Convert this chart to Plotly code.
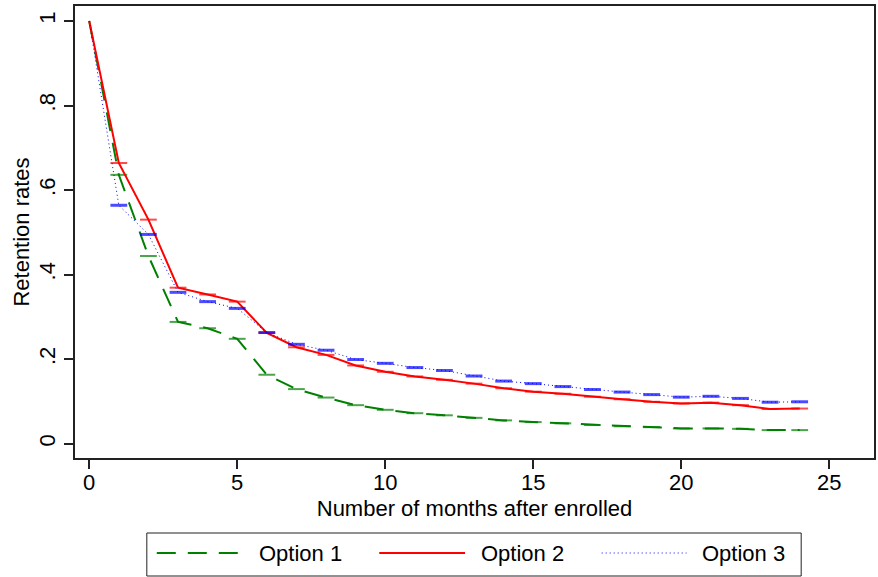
import plotly.graph_objects as go

# ---- data ----
months = list(range(0, 25))
option1 = [1.0, 0.636, 0.444, 0.288, 0.273, 0.248, 0.163, 0.129, 0.109, 0.091, 0.080, 0.072,
           0.067, 0.061, 0.055, 0.051, 0.048, 0.044, 0.041, 0.039, 0.036, 0.036, 0.035, 0.032, 0.032]
option2 = [1.0, 0.664, 0.530, 0.369, 0.353, 0.336, 0.262, 0.228, 0.210, 0.185, 0.170, 0.159,
           0.151, 0.142, 0.131, 0.123, 0.118, 0.111, 0.105, 0.099, 0.095, 0.097, 0.091, 0.082, 0.083]
option3 = [1.0, 0.564, 0.495, 0.358, 0.336, 0.320, 0.263, 0.235, 0.221, 0.199, 0.190, 0.180,
           0.173, 0.160, 0.148, 0.142, 0.135, 0.128, 0.122, 0.116, 0.110, 0.112, 0.107, 0.098, 0.099]
series_names = ["Option 1", "Option 2", "Option 3"]
x_ticks = [0, 5, 10, 15, 20, 25]
y_ticks = [0, 0.2, 0.4, 0.6, 0.8, 1.0]
y_ticklabels = ["0", ".2", ".4", ".6", ".8", "1"]

FONT = "Liberation Sans, Arial, Helvetica, sans-serif"
W, H = 878, 577
L, R, T, B = 75, 2, 6, 119

styles = [
    dict(color="rgb(0,128,0)", width=2, dash="19px,12px", mw=2),
    dict(color="rgb(255,0,0)", width=2, dash="solid", mw=2),
    dict(color="rgb(0,0,255)", width=1, dash="1px,3px", mw=3),
]

msize = [0] + [12] * (len(months) - 1)

fig = go.Figure()
for name, ys, st in zip(series_names, [option1, option2, option3], styles):
    fig.add_trace(go.Scatter(
        x=months, y=ys, name=name, mode="lines+markers",
        line=dict(color=st["color"], width=st["width"], dash=st["dash"]),
        marker=dict(symbol="line-ew", size=msize,
                    line=dict(color=st["color"], width=st["mw"])),
        showlegend=False,
    ))

# ---- custom Stata-like legend ----
pw = W - L - R
ph = H - T - B


def px2paper(px, py):
    return (px - L) / pw, (H - B - py) / ph


shapes = []
annotations = []
x0, y0 = px2paper(147, 576)
x1, y1 = px2paper(803, 533)
shapes.append(dict(type="rect", xref="paper", yref="paper", x0=x0, y0=y0, x1=x1, y1=y1,
                   line=dict(color="#222", width=1), fillcolor="white"))
leg_y = 553
sample_x = [(157, 243, 257), (380, 466, 480), (603, 688, 702)]
for (sx0, sx1, tx), name, st in zip(sample_x, series_names, styles):
    a0, ly = px2paper(sx0, leg_y)
    a1, _ = px2paper(sx1, leg_y)
    shapes.append(dict(type="line", xref="paper", yref="paper", x0=a0, x1=a1, y0=ly, y1=ly,
                       line=dict(color=st["color"], width=st["width"], dash=st["dash"])))
    tx_p, _ = px2paper(tx, leg_y)
    annotations.append(dict(text=name, xref="paper", yref="paper", x=tx_p, y=ly,
                            xanchor="left", yanchor="middle", showarrow=False,
                            font=dict(family=FONT, size=22, color="black")))

fig.update_layout(
    width=W, height=H,
    margin=dict(l=L, r=R, t=T, b=B, pad=0),
    paper_bgcolor="white", plot_bgcolor="white",
    font=dict(family=FONT, size=22, color="black"),
    shapes=shapes, annotations=annotations,
    xaxis=dict(
        range=[-0.48, 26.51], tickvals=x_ticks, ticks="outside", ticklen=9, tickwidth=1.5,
        tickcolor="#222", showline=True, linecolor="#222", linewidth=1.5, mirror=True,
        showgrid=False, zeroline=False, tickfont=dict(size=22), ticklabelstandoff=-5,
        title=dict(text="Number of months after enrolled", font=dict(size=22), standoff=6),
    ),
    yaxis=dict(
        range=[-0.034, 1.0355], tickvals=y_ticks, ticktext=y_ticklabels, ticks="outside",
        ticklen=9, tickwidth=1.5, tickcolor="#222", showline=True, linecolor="#222",
        linewidth=1.5, mirror=True, showgrid=False, zeroline=False, tickangle=-90,
        tickfont=dict(size=22),
        title=dict(text="Retention rates", font=dict(size=22), standoff=0),
    ),
)

fig.write_html("out.html")
